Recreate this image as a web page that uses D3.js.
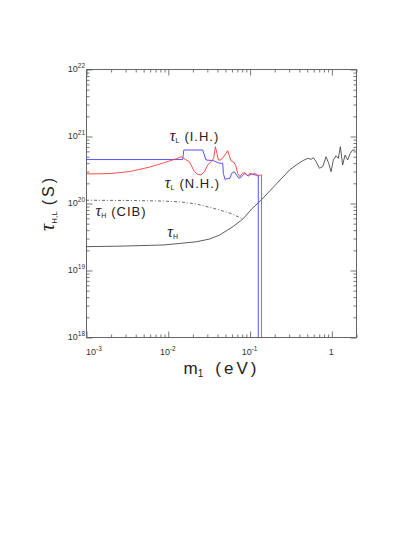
<!DOCTYPE html>
<html><head><meta charset="utf-8">
<script src="https://cdn.jsdelivr.net/npm/d3@7"></script>
<style>body{margin:0;background:#fff}svg{display:block;background:#fff}</style>
</head><body><svg id="c" width="415" height="537"></svg>
<script>
// ---- data (m1 in eV, tau in s) ----
const xDomain = [1e-3, 2];
const yDomain = [1e18, 1e22];
const xTickLabels = [[1e-3, "10", "-3"], [1e-2, "10", "-2"], [1e-1, "10", "-1"], [1, "1", ""]];
const yTickLabels = [[1e18, "10", "18"], [1e19, "10", "19"], [1e20, "10", "20"], [1e21, "10", "21"], [1e22, "10", "22"]];

const tauH_m = [0.001, 0.0026, 0.00877, 0.0140, 0.0224, 0.0325, 0.0431, 0.0625, 0.0828, 0.106, 0.139, 0.202, 0.308, 0.371, 0.447, 0.514, 0.565, 0.603, 0.650, 0.714, 0.784, 0.861, 0.927, 0.991, 1.057, 1.140, 1.216, 1.288, 1.374, 1.469, 1.581, 1.706, 1.820, 1.963];
const tauH_v = [2.23e19, 2.27e19, 2.36e19, 2.49e19, 2.64e19, 2.90e19, 3.33e19, 4.43e19, 5.77e19, 8.13e19, 1.11e20, 1.80e20, 3.11e20, 3.69e20, 4.28e20, 4.64e20, 4.49e20, 4.74e20, 4.13e20, 3.30e20, 3.48e20, 4.91e20, 3.92e20, 2.93e20, 4.39e20, 5.08e20, 4.64e20, 6.92e20, 3.69e20, 5.20e20, 4.39e20, 5.52e20, 6.18e20, 6.18e20];

const tauCIB_m = [0.001, 0.00344, 0.00869, 0.0140, 0.0224, 0.0431, 0.0616, 0.0828];
const tauCIB_v = [1.10e20, 1.09e20, 1.07e20, 1.04e20, 9.67e19, 7.87e19, 6.85e19, 5.77e19];

const tauIH_m = [0.001, 0.0152, 0.0157, 0.0267, 0.0293, 0.0364, 0.0388, 0.0427, 0.0469, 0.0478, 0.0500, 0.0575, 0.0603, 0.0650, 0.0693, 0.0741, 0.0798, 0.0877, 0.0964, 0.1057, 0.1162, 0.1254, 0.1277, 0.1277];
const tauIH_v = [4.45e20, 4.45e20, 6.18e20, 6.18e20, 4.39e20, 4.28e20, 4.13e20, 3.92e20, 3.92e20, 2.77e20, 2.26e20, 2.34e20, 2.77e20, 2.93e20, 2.62e20, 2.34e20, 2.47e20, 2.77e20, 2.53e20, 2.71e20, 2.62e20, 2.62e20, 2.62e20, 1e18];

const tauNH_m = [0.001, 0.00196, 0.00344, 0.00603, 0.00919, 0.01324, 0.01452, 0.01566, 0.01671, 0.01841, 0.01923, 0.02119, 0.02323, 0.02547, 0.02805, 0.03078, 0.03373, 0.03639, 0.0382, 0.0399, 0.0415, 0.0447, 0.0500, 0.0540, 0.0560, 0.0592, 0.0632, 0.0675, 0.0714, 0.0762, 0.0815, 0.0877, 0.0946, 0.1009, 0.1089, 0.1162, 0.1254, 0.1361, 0.1400, 0.1400];
const tauNH_v = [2.71e20, 2.75e20, 2.95e20, 3.44e20, 4.02e20, 4.65e20, 4.91e20, 4.65e20, 4.39e20, 4.13e20, 3.69e20, 2.93e20, 2.68e20, 2.62e20, 2.93e20, 3.69e20, 4.13e20, 4.65e20, 6.92e20, 5.52e20, 4.39e20, 4.39e20, 5.20e20, 6.04e20, 5.20e20, 4.28e20, 4.13e20, 3.69e20, 2.77e20, 2.47e20, 2.77e20, 2.83e20, 2.53e20, 2.77e20, 2.68e20, 2.77e20, 2.53e20, 2.62e20, 2.62e20, 1e18];

// annotations: [m, tau, sub, rest]
const annotations = [
  [0.01058, 8.28e20, "L", "(I.H.)"],
  [0.00919, 1.65e20, "L", "(N.H.)"],
  [0.001306, 6.29e19, "H", "(CIB)"],
  [0.00986, 3.16e19, "H", ""]
];

// ---- drawing ----
const svg = d3.select("#c");
const L = 86, R = 356, T = 69, B = 337;
const x = d3.scaleLog().domain(xDomain).range([L, R]);
const y = d3.scaleLog().domain(yDomain).range([B, T]);
const font = "'Liberation Sans', Arial, Helvetica, sans-serif";
const tauFont = "'Liberation Serif', 'DejaVu Serif', serif";
const axisCol = "#666";

svg.append("defs").append("clipPath").attr("id", "clip")
  .append("rect").attr("x", L).attr("y", T).attr("width", R - L).attr("height", B - T);

const isMajor = v => Math.abs(Math.log10(v) - Math.round(Math.log10(v))) < 1e-9;
const xt = x.ticks(), yt = y.ticks();
const xMaj = xt.filter(isMajor), xMin = xt.filter(v => !isMajor(v));
const yMaj = yt.filter(isMajor), yMin = yt.filter(v => !isMajor(v));

function addAxis(gen, tr, vals, size) {
  const g = svg.append("g").attr("transform", tr)
    .call(gen.tickValues(vals).tickSize(size).tickFormat(""));
  g.select(".domain").remove();
  g.selectAll("line").attr("stroke", axisCol).attr("stroke-width", 0.9);
}
addAxis(d3.axisBottom(x), `translate(0.5,${B + 0.5})`, xMaj, -6);
addAxis(d3.axisBottom(x), `translate(0.5,${B + 0.5})`, xMin, -3);
addAxis(d3.axisTop(x), `translate(0.5,${T + 0.5})`, xMaj, -6);
addAxis(d3.axisTop(x), `translate(0.5,${T + 0.5})`, xMin, -3);
addAxis(d3.axisLeft(y), `translate(${L + 0.5},0.5)`, yMaj, -6);
addAxis(d3.axisLeft(y), `translate(${L + 0.5},0.5)`, yMin, -3);
addAxis(d3.axisRight(y), `translate(${R + 0.5},0.5)`, yMaj, -6);
addAxis(d3.axisRight(y), `translate(${R + 0.5},0.5)`, yMin, -3);

svg.append("rect").attr("x", L + 0.5).attr("y", T + 0.5).attr("width", R - L).attr("height", B - T)
  .attr("fill", "none").attr("stroke", axisCol).attr("stroke-width", 1);

// tick labels
xTickLabels.forEach(([v, base, exp], i) => {
  const t = svg.append("text").attr("x", x(v) + (i === 0 ? 8 : 0)).attr("y", B + 18)
    .attr("text-anchor", "middle").attr("font-family", font).attr("font-size", 9).attr("fill", "#333");
  t.append("tspan").text(base);
  if (exp) t.append("tspan").attr("dy", -4).attr("font-size", 6.5).text(exp);
});
yTickLabels.forEach(([v, base, exp]) => {
  const t = svg.append("text").attr("x", L - 1).attr("y", y(v) + 2.5)
    .attr("text-anchor", "end").attr("font-family", font).attr("font-size", 9).attr("fill", "#333");
  t.append("tspan").text(base);
  t.append("tspan").attr("dy", -4).attr("font-size", 6.5).text(exp);
});

// axis titles
const xt1 = svg.append("text").attr("x", (L + R) / 2 + 0.5).attr("y", 374)
  .attr("text-anchor", "middle").attr("font-family", font).attr("font-size", 17).attr("fill", "#222");
xt1.append("tspan").text("m");
xt1.append("tspan").attr("dy", 3).attr("font-size", 10).text("1");
xt1.append("tspan").attr("dy", -3).attr("dx", 12).attr("letter-spacing", 3).text("(eV)");

const yt1 = svg.append("text").attr("transform", `translate(54,${y(1e20)}) rotate(-90)`)
  .attr("text-anchor", "middle").attr("font-family", font).attr("font-size", 16).attr("fill", "#222");
yt1.append("tspan").attr("font-family", tauFont).attr("font-style", "italic").attr("font-size", 20).text("τ");
yt1.append("tspan").attr("dy", 3).attr("font-size", 8).text("H,L");
yt1.append("tspan").attr("dy", -3).attr("dx", 6).attr("letter-spacing", 3).text("(S)");

// curves
const line = d3.line().x(d => x(d[0])).y(d => y(d[1]));
const plot = svg.append("g").attr("clip-path", "url(#clip)");
const series = [
  [tauCIB_m, tauCIB_v, "#444", "3,2,1,2", 0.8],
  [tauH_m, tauH_v, "#333", null, 0.8],
  [tauIH_m, tauIH_v, "#4040ff", null, 0.9],
  [tauNH_m, tauNH_v, "#ff3a3a", null, 0.9]
];
series.forEach(([ms, vs, col, dash, w]) => {
  plot.append("path").datum(ms.map((m, i) => [m, vs[i]])).attr("d", line)
    .attr("fill", "none").attr("stroke", col).attr("stroke-width", w)
    .attr("stroke-dasharray", dash);
});

// annotations
annotations.forEach(([m, v, sub, rest]) => {
  const t = svg.append("text").attr("x", x(m)).attr("y", y(v))
    .attr("font-family", font).attr("font-size", 13).attr("fill", "#222");
  t.append("tspan").attr("font-family", tauFont).attr("font-style", "italic").attr("font-size", 16).text("τ");
  t.append("tspan").attr("dy", 2).attr("font-size", 7).text(sub);
  if (rest) t.append("tspan").attr("dy", -2).attr("dx", 5).attr("letter-spacing", 1).text(rest);
});
</script></body></html>
